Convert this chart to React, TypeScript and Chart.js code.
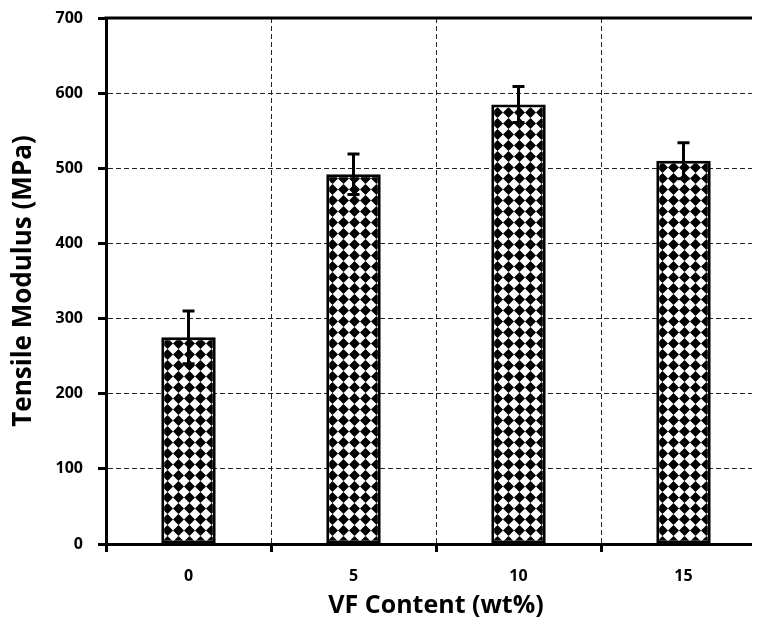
import React, { useEffect, useRef } from "react";
import { Chart, registerables } from "chart.js";

Chart.register(...registerables);

const categories = ["0", "5", "10", "15"];
const modulus = [275, 492, 585, 510];
const modulusError = [35, 27, 24, 24];
const yTicks = [0, 100, 200, 300, 400, 500, 600, 700];

const FONT = "'Open Sans', 'DejaVu Sans', sans-serif";

function makePattern(): CanvasPattern | string {
  const P = 11;
  const c = document.createElement("canvas");
  c.width = P;
  c.height = P;
  const g = c.getContext("2d");
  if (!g) return "#000";
  g.fillStyle = "#fff";
  g.fillRect(0, 0, P, P);
  g.fillStyle = "#000";
  g.beginPath();
  g.moveTo(P / 2, 0);
  g.lineTo(P, P / 2);
  g.lineTo(P / 2, P);
  g.lineTo(0, P / 2);
  g.closePath();
  g.fill();
  const pat = g.createPattern(c, "repeat");
  return pat || "#000";
}

const errorBarPlugin = {
  id: "errorBars",
  afterDatasetsDraw(chart: any) {
    const { ctx, scales } = chart;
    const meta = chart.getDatasetMeta(0);
    const y = scales.y;
    ctx.save();
    ctx.strokeStyle = "#000";
    ctx.lineWidth = 3;
    meta.data.forEach((bar: any, i: number) => {
      const x = bar.x;
      const v = modulus[i];
      const e = modulusError[i];
      const yTop = y.getPixelForValue(v + e);
      const yBot = y.getPixelForValue(v - e);
      ctx.beginPath();
      ctx.moveTo(x, yTop);
      ctx.lineTo(x, yBot);
      ctx.moveTo(x - 6, yTop);
      ctx.lineTo(x + 6, yTop);
      ctx.moveTo(x - 6, yBot);
      ctx.lineTo(x + 6, yBot);
      ctx.stroke();
    });
    ctx.restore();
  },
};

const topBorderPlugin = {
  id: "topBorder",
  afterDraw(chart: any) {
    const { ctx, chartArea } = chart;
    ctx.save();
    ctx.strokeStyle = "#000";
    ctx.lineWidth = 3;
    ctx.beginPath();
    ctx.moveTo(chartArea.left - 1.5, chartArea.top);
    ctx.lineTo(chartArea.right, chartArea.top);
    ctx.stroke();
    ctx.restore();
  },
};

export default function App() {
  const ref = useRef<HTMLCanvasElement | null>(null);

  useEffect(() => {
    if (!ref.current) return;
    const chart = new Chart(ref.current, {
      type: "bar",
      data: {
        labels: categories,
        datasets: [
          {
            data: modulus,
            backgroundColor: makePattern() as any,
            borderColor: "#000",
            borderWidth: 3,
            borderSkipped: false,
            barPercentage: 0.33,
            categoryPercentage: 1,
          },
        ],
      },
      options: {
        responsive: false,
        animation: false,
        layout: { padding: { left: 0, top: 10, right: 12, bottom: 0 } },
        plugins: {
          legend: { display: false },
          tooltip: { enabled: false },
        },
        scales: {
          x: {
            grid: {
              color: "#222",
              lineWidth: 1,
              offset: true,
              drawTicks: true,
              tickLength: 8,
              tickWidth: 3,
              tickColor: "#000",
            },
            border: { display: true, color: "#000", width: 3, dash: [5, 3] },
            ticks: {
              color: "#000",
              font: { family: FONT, size: 16, weight: "bold" },
              padding: 15,
            },
            title: {
              display: true,
              text: "VF Content (wt%)",
              color: "#000",
              font: { family: FONT, size: 25, weight: "bold" },
              padding: { top: 0, bottom: 5 },
            },
            afterFit: (scale: any) => {
              scale.height = 82;
            },
          },
          y: {
            min: 0,
            max: 700,
            afterBuildTicks: (scale: any) => {
              scale.ticks = yTicks.map((v) => ({ value: v }));
            },
            grid: {
              color: (c: any) =>
                c.tick && (c.tick.value === 700 || c.tick.value === 0)
                  ? "rgba(0,0,0,0)"
                  : "#222",
              lineWidth: 1,
              drawTicks: true,
              tickLength: 8,
              tickWidth: 3,
              tickColor: "#000",
            },
            border: { display: true, color: "#000", width: 3, dash: [5, 3] },
            ticks: {
              color: "#000",
              font: { family: FONT, size: 16, weight: "bold" },
              padding: 15,
            },
            title: {
              display: true,
              text: "Tensile Modulus (MPa)",
              color: "#000",
              font: { family: FONT, size: 26, weight: "bold" },
              padding: { top: 0, bottom: 0 },
            },
            afterFit: (scale: any) => {
              scale.width = 98;
              scale.paddingTop = 10;
              scale.paddingBottom = 0;
            },
          },
        },
      },
      plugins: [errorBarPlugin, topBorderPlugin],
    });
    return () => chart.destroy();
  }, []);

  return (
    <div style={{ width: 752, height: 610, overflow: "hidden" }}>
      <canvas ref={ref} width={770} height={618} style={{ display: "block" }} />
    </div>
  );
}
